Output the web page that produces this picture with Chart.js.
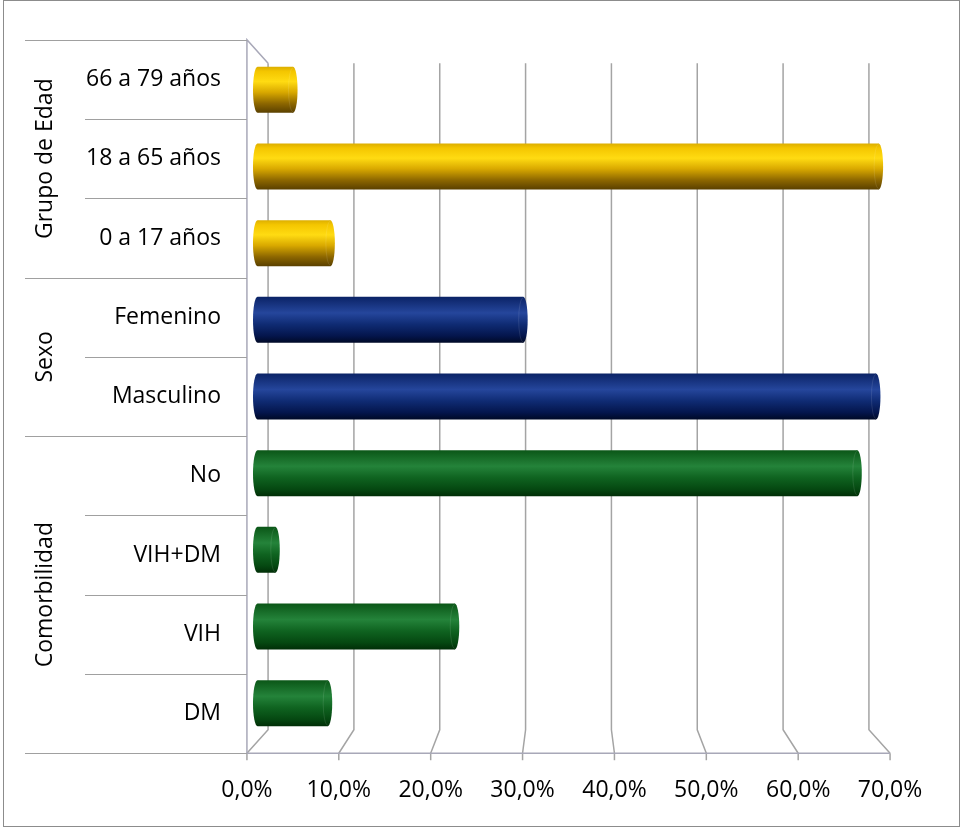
<!DOCTYPE html>
<html lang="es">
<head>
<meta charset="utf-8">
<title>Distribución por grupo de edad, sexo y comorbilidad</title>
<script src="https://cdn.jsdelivr.net/npm/chart.js@4.4.1/dist/chart.umd.min.js"></script>
<style>
    html, body { margin: 0; padding: 0; background: #ffffff; }
    #wrap { width: 963px; height: 829px; }
</style>
</head>
<body>
<div id="wrap"><canvas id="chart" width="963" height="829"></canvas></div>
<script>
// Categories (top to bottom) and their percentages
const categories = ['66 a 79 años', '18 a 65 años', '0 a 17 años', 'Femenino', 'Masculino', 'No', 'VIH+DM', 'VIH', 'DM'];
const percentages = [4.0, 69.9, 8.2, 29.9, 69.6, 67.5, 2.0, 22.2, 7.9];

// Outer grouping of the category axis
const groupNames = ['Grupo de Edad', 'Sexo', 'Comorbilidad'];
const groupSizes = [3, 2, 4];

// Value axis
const xTicks = [0, 10, 20, 30, 40, 50, 60, 70];

/**
 * Cylinder shading for each group (top -> bottom of the bar)
 */
const groupShades = [
    [[0, '#dcae00'], [0.1, '#f4c600'], [0.32, '#ffdb12'], [0.55, '#d9a900'], [0.8, '#8c6600'], [1, '#5a4000']],
    [[0, '#0b2366'], [0.35, '#25469c'], [0.6, '#0f2b73'], [0.85, '#04154c'], [1, '#000926']],
    [[0, '#0b5617'], [0.35, '#24833a'], [0.6, '#0f6320'], [0.85, '#054811'], [1, '#012e07']]
];

const FONT = '"Open Sans", "DejaVu Sans", sans-serif';
const DEPTH_FRONT = 1.034;
const DEPTH_BACK = 0.966;
const BAR_FRACTION = 0.6;
const CAP_RX = 4.5;

// group index of every category
const groupOf = [];
groupSizes.forEach((n, g) => { for (let i = 0; i < n; i++) groupOf.push(g); });

const formatPct = (v) => v.toFixed(1).replace('.', ',') + '%';

const barGradient = (ctx, yTop, yBottom, group) => {
    const grad = ctx.createLinearGradient(0, yTop, 0, yBottom);
    groupShades[group].forEach(([pos, col]) => grad.addColorStop(pos, col));
    return grad;
};

// scale a point of the middle plane towards the front or the back wall
const project = (area, x, y, k) => {
    const cx = (area.left + area.right) / 2;
    const cy = (area.top + area.bottom) / 2;
    return [cx + (x - cx) * k, cy + (y - cy) * k];
};

const barFill = (context) => {
    const chart = context.chart;
    const group = groupOf[context.dataIndex];
    if (!chart.chartArea) return groupShades[group][2][1];
    const yScale = chart.scales.y;
    const band = (chart.chartArea.bottom - chart.chartArea.top) / categories.length;
    const yc = yScale.getPixelForValue(context.dataIndex);
    const h = band * BAR_FRACTION;
    return barGradient(chart.ctx, yc - h / 2, yc + h / 2, group);
};

/**
 * Walls, gridlines, axis labels and the round cylinder ends
 */
const frame3d = {
    id: 'frame3d',
    beforeDraw(chart) {
        const ctx = chart.ctx;
        ctx.save();
        ctx.fillStyle = '#ffffff';
        ctx.fillRect(0, 0, chart.width, chart.height);
        ctx.strokeStyle = '#8c8c8c';
        ctx.lineWidth = 1;
        ctx.strokeRect(3.5, 0.5, 956, 826);
        ctx.restore();
    },
    beforeDatasetsDraw(chart) {
        const ctx = chart.ctx;
        const area = chart.chartArea;
        const xScale = chart.scales.x;
        const band = (area.bottom - area.top) / categories.length;

        ctx.save();
        ctx.lineCap = 'butt';

        // gridlines: front floor -> back floor -> up the back wall
        ctx.strokeStyle = '#a4a4a4';
        ctx.lineWidth = 1.5;
        xTicks.forEach((t) => {
            const xm = xScale.getPixelForValue(t);
            const f = project(area, xm, area.bottom, DEPTH_FRONT);
            const b = project(area, xm, area.bottom, DEPTH_BACK);
            const bt = project(area, xm, area.top, DEPTH_BACK);
            ctx.beginPath();
            ctx.moveTo(f[0], f[1]);
            ctx.lineTo(b[0], b[1]);
            ctx.lineTo(bt[0], bt[1]);
            ctx.stroke();
            // tick mark under the floor edge
            ctx.beginPath();
            ctx.moveTo(f[0], f[1]);
            ctx.lineTo(f[0], f[1] + 7);
            ctx.stroke();
        });

        // left wall edges and front floor edge
        const fl = project(area, area.left, area.bottom, DEPTH_FRONT);
        const fr = project(area, area.right, area.bottom, DEPTH_FRONT);
        const ft = project(area, area.left, area.top, DEPTH_FRONT);
        const bt = project(area, area.left, area.top, DEPTH_BACK);
        ctx.strokeStyle = '#a8a8b8';
        ctx.beginPath();
        ctx.moveTo(bt[0], bt[1]);
        ctx.lineTo(ft[0], ft[1]);
        ctx.lineTo(fl[0], fl[1]);
        ctx.lineTo(fr[0], fr[1]);
        ctx.stroke();

        // category separators on the left, longer at group boundaries
        ctx.strokeStyle = '#a0a0a0';
        ctx.lineWidth = 1;
        const boundaries = new Set([0]);
        groupSizes.reduce((acc, n) => { boundaries.add(acc + n); return acc + n; }, 0);
        for (let i = 0; i <= categories.length; i++) {
            const p = project(area, area.left, area.top + band * i, DEPTH_FRONT);
            const y = Math.round(p[1]) + 0.5;
            ctx.beginPath();
            ctx.moveTo(boundaries.has(i) ? 25 : 85, y);
            ctx.lineTo(p[0], y);
            ctx.stroke();
        }

        // category labels
        ctx.fillStyle = '#000000';
        ctx.font = '23px ' + FONT;
        ctx.textAlign = 'right';
        ctx.textBaseline = 'middle';
        categories.forEach((label, i) => {
            const p = project(area, area.left, area.top + band * (i + 0.5), DEPTH_FRONT);
            ctx.fillText(label, 221, p[1]);
        });

        // group labels, rotated
        ctx.textAlign = 'center';
        let start = 0;
        groupNames.forEach((name, g) => {
            const a = project(area, area.left, area.top + band * start, DEPTH_FRONT);
            const b = project(area, area.left, area.top + band * (start + groupSizes[g]), DEPTH_FRONT);
            ctx.save();
            ctx.translate(45, (a[1] + b[1]) / 2);
            ctx.rotate(-Math.PI / 2);
            ctx.fillText(name, 0, 0);
            ctx.restore();
            start += groupSizes[g];
        });

        // value axis labels along the front floor edge
        xTicks.forEach((t) => {
            const f = project(area, xScale.getPixelForValue(t), area.bottom, DEPTH_FRONT);
            ctx.fillText(formatPct(t), f[0], 790);
        });

        // rounded back end of each cylinder
        const meta = chart.getDatasetMeta(0);
        meta.data.forEach((bar, i) => {
            const { y, base, height } = bar.getProps(['y', 'base', 'height'], true);
            ctx.fillStyle = barGradient(ctx, y - height / 2, y + height / 2, groupOf[i]);
            ctx.beginPath();
            ctx.ellipse(base, y, CAP_RX, height / 2, 0, 0, Math.PI * 2);
            ctx.fill();
        });
        ctx.restore();
    },
    afterDatasetsDraw(chart) {
        const ctx = chart.ctx;
        const meta = chart.getDatasetMeta(0);
        ctx.save();
        meta.data.forEach((bar, i) => {
            const { x, y, height } = bar.getProps(['x', 'y', 'height'], true);
            ctx.fillStyle = barGradient(ctx, y - height / 2, y + height / 2, groupOf[i]);
            ctx.beginPath();
            ctx.ellipse(x, y, CAP_RX, height / 2, 0, 0, Math.PI * 2);
            ctx.fill();
            // faint seam where the flat end meets the body
            ctx.strokeStyle = 'rgba(255,255,255,0.1)';
            ctx.lineWidth = 1;
            ctx.beginPath();
            ctx.ellipse(x, y, CAP_RX, height / 2 - 1, 0, Math.PI / 2, Math.PI * 1.5);
            ctx.stroke();
        });
        ctx.restore();
    }
};

new Chart(document.getElementById('chart'), {
    type: 'bar',
    data: {
        labels: categories,
        datasets: [{
            data: percentages,
            backgroundColor: barFill,
            borderWidth: 0,
            categoryPercentage: 1,
            barPercentage: BAR_FRACTION
        }]
    },
    options: {
        indexAxis: 'y',
        responsive: false,
        animation: false,
        events: [],
        layout: {
            padding: { left: 257.5, right: 83.5, top: 51.5, bottom: 87.5 }
        },
        scales: {
            x: { display: false, min: 0, max: 70 },
            y: { display: false }
        },
        plugins: {
            legend: { display: false },
            tooltip: { enabled: false }
        }
    },
    plugins: [frame3d]
});
</script>
</body>
</html>
